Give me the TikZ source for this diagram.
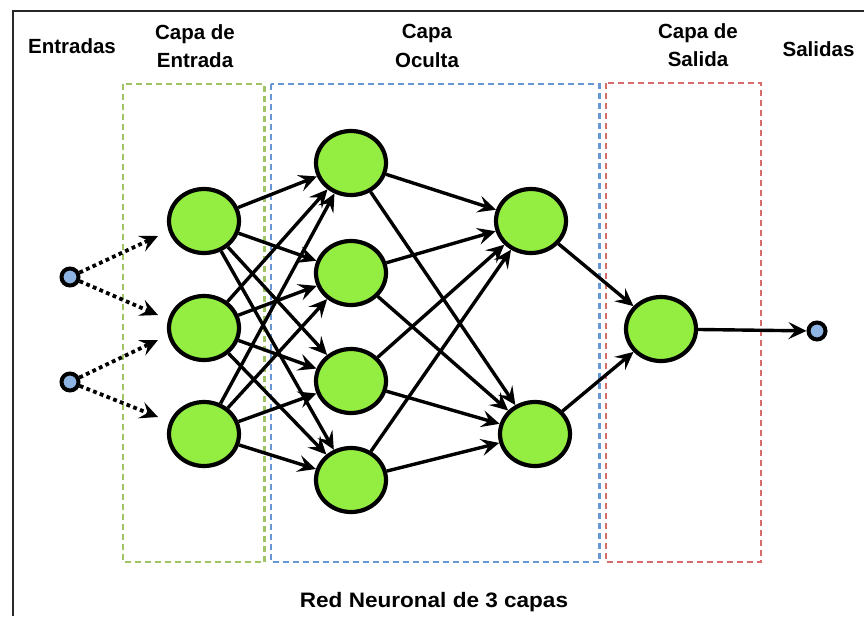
\documentclass[tikz,border=0pt]{standalone}
\usepackage{fontspec}
\setmainfont{Liberation Sans}
\usetikzlibrary{arrows.meta,shapes.geometric}
\definecolor{nodegreen}{RGB}{148,238,66}
\definecolor{smallblue}{RGB}{141,180,226}
\definecolor{boxgreen}{RGB}{160,196,100}
\definecolor{boxblue}{RGB}{104,152,212}
\definecolor{boxred}{RGB}{214,108,108}
\definecolor{framegray}{RGB}{40,40,40}
\tikzset{
  neuron/.style={ellipse, draw=black, line width=4.2pt, fill=nodegreen, minimum width=70pt, minimum height=64pt, inner sep=0pt},
  port/.style={circle, draw=black, line width=4pt, fill=smallblue, minimum size=17pt, inner sep=0pt},
  edge/.style={draw=black, line width=3.4pt, -{Stealth[length=18pt,width=17pt,inset=7pt]}},
  dotedge/.style={draw=black, line width=3.8pt, dash pattern=on 3.8pt off 3.4pt, -{Stealth[length=18pt,width=17pt,inset=7pt]}},
  layerbox/.style={line width=2.2pt, dash pattern=on 6pt off 4pt},
  lbl/.style={font=\fontsize{20.5}{28.5}\selectfont\bfseries, align=center, inner sep=0pt}
}
\begin{document}
\begin{tikzpicture}[x=1pt, y=-1pt]
\fill[white] (0,0) rectangle (864,616);
\useasboundingbox (0,0) rectangle (864,616);
\coordinate (fTL) at (12.7,10.5);
\coordinate (fTR) at (864,10.5);
\coordinate (fBL) at (12.7,616);
\draw[framegray, line width=2pt] (fBL) -- (fTL) -- (fTR);

% layer boxes
\draw[layerbox, boxgreen] (122.7,84) rectangle (264.5,562);
\draw[layerbox, boxblue] (270.7,84) rectangle (599.5,562);
\draw[layerbox, boxred] (605.7,83) rectangle (761,562);

% labels
\node[lbl, anchor=base] (tEnt) at (72,53.3) {Entradas};
\node[lbl] (tCE) at (195,46) {Capa de\\Entrada};
\node[lbl] (tCO) at (427,46) {Capa\\Oculta};
\node[lbl] (tCS) at (698,45) {Capa de\\Salida};
\node[lbl, anchor=base] (tSal) at (818.5,56) {Salidas};
\node[lbl, anchor=base] (tRed) at (434,607) {\scalebox{1.1}[1.02]{Red Neuronal de 3 capas}};

% nodes
\node[port] (i1) at (70,277) {};
\node[port] (i2) at (70,382) {};
\node[neuron] (a1) at (204,221) {};
\node[neuron] (a2) at (204,328) {};
\node[neuron] (a3) at (204,434) {};
\node[neuron] (h1) at (351,163) {};
\node[neuron] (h2) at (351,273) {};
\node[neuron] (h3) at (351,381) {};
\node[neuron] (h4) at (351,480) {};
\node[neuron] (g1) at (531,221) {};
\node[neuron] (g2) at (535,434) {};
\node[neuron] (o) at (661,329) {};
\node[port] (out) at (817,331) {};

% free ends of dotted arrows
\coordinate (d1) at (158,236);
\coordinate (d2) at (158,315);
\coordinate (d3) at (158,340);
\coordinate (d4) at (158,417);

\draw[dotedge] (i1) -- (d1);
\draw[dotedge] (i1) -- (d2);
\draw[dotedge] (i2) -- (d3);
\draw[dotedge] (i2) -- (d4);

\foreach \s in {a1,a2,a3}{
  \foreach \t in {h1,h2,h3,h4}{
    \draw[edge] (\s) -- (\t);
  }
}
\foreach \s in {h1,h2,h3,h4}{
  \foreach \t in {g1,g2}{
    \draw[edge] (\s) -- (\t);
  }
}
\draw[edge] (g1) -- (o);
\draw[edge] (g2) -- (o);
\draw[edge] (o) -- (out);
\end{tikzpicture}
\end{document}
